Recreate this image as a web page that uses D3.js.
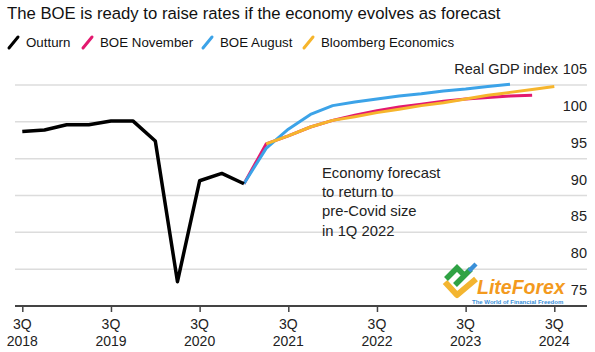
<!DOCTYPE html>
<html>
<head>
<meta charset="utf-8">
<script src="https://cdn.jsdelivr.net/npm/d3@7"></script>
<style>
  body { margin: 0; background: #fff; }
  svg { font-family: "Liberation Sans", Arial, sans-serif; }
</style>
</head>
<body>
<script>
// quarters from 3Q 2018 to 3Q 2024
let quarters = ['2018Q3', '2018Q4', '2019Q1', '2019Q2', '2019Q3', '2019Q4', '2020Q1', '2020Q2',
  '2020Q3', '2020Q4', '2021Q1', '2021Q2', '2021Q3', '2021Q4', '2022Q1', '2022Q2', '2022Q3',
  '2022Q4', '2023Q1', '2023Q2', '2023Q3', '2023Q4', '2024Q1', '2024Q2', '2024Q3']

let outturn = [98.7, 98.9, 99.6, 99.6, 100.1, 100.1, 97.4, 78.3, 92.0, 93.0, 91.6]
let boeNovember = [91.6, 97.0, 98.1, 99.3, 100.2, 100.9, 101.5, 102.0, 102.4, 102.8, 103.1, 103.3, 103.5, 103.6]
let boeAugust = [91.6, 96.4, 99.0, 101.0, 102.2, 102.7, 103.1, 103.5, 103.8, 104.2, 104.45, 104.8, 105.1]
let bloomberg = [97.0, 98.1, 99.3, 100.2, 100.7, 101.25, 101.7, 102.2, 102.6, 103.1, 103.6, 104.0, 104.4, 104.8]

let yTicks = [75, 80, 85, 90, 95, 100, 105]
let xTicks = ['2018Q3', '2019Q3', '2020Q3', '2021Q3', '2022Q3', '2023Q3', '2024Q3']

let series = [
  {name: 'BOE November', start: '2021Q1', values: boeNovember, color: '#e3196f'},
  {name: 'BOE August', start: '2021Q1', values: boeAugust, color: '#3ca3e8'},
  {name: 'Bloomberg Economics', start: '2021Q2', values: bloomberg, color: '#f6b52c'},
  {name: 'Outturn', start: '2018Q3', values: outturn, color: '#000'}
]
let legendOrder = ['Outturn', 'BOE November', 'BOE August', 'Bloomberg Economics']

let W = 595, H = 352
let svg = d3.select('body').append('svg').attr('width', W).attr('height', H)

let x = d3.scalePoint().domain(quarters).range([22.3, 554.3])
let y = d3.scaleLinear().domain([75, 105]).range([306, 85])

// title
svg.append('text').attr('x', 7).attr('y', 19).attr('font-size', 16.7).attr('fill', '#111')
  .text('The BOE is ready to raise rates if the economy evolves as forecast')

// legend
let lx = [7, 81, 201, 302]
legendOrder.forEach(function (n, i) {
  let s = series.find(function (d) { return d.name == n })
  let g = svg.append('g').attr('transform', 'translate(' + lx[i] + ',42)')
  g.append('line').attr('x1', 2).attr('y1', 6).attr('x2', 11).attr('y2', -5)
    .attr('stroke', s.color).attr('stroke-width', 3).attr('stroke-linecap', 'round')
  g.append('text').attr('x', 19).attr('y', 5).attr('font-size', 13.3).attr('fill', '#111').text(n)
})

// gridlines
svg.append('g').selectAll('line').data(yTicks.filter(function (d) { return d > 75 })).enter().append('line')
  .attr('x1', 15).attr('x2', 587)
  .attr('y1', function (d) { return y(d) }).attr('y2', function (d) { return y(d) })
  .attr('stroke', '#dcdcdc').attr('stroke-width', 1.5)

// y labels (above gridlines)
svg.append('g').selectAll('text').data(yTicks).enter().append('text')
  .attr('x', 587).attr('y', function (d) { return y(d) - 11 })
  .attr('text-anchor', 'end').attr('font-size', 14.5).attr('fill', '#222')
  .text(function (d) { return d })
svg.append('text').attr('x', 558).attr('y', y(105) - 11).attr('text-anchor', 'end')
  .attr('font-size', 14.5).attr('fill', '#222').text('Real GDP index')

// x axis
let xAxis = d3.axisBottom(x).tickValues(xTicks).tickSize(6).tickFormat('')
let ax = svg.append('g').attr('transform', 'translate(0,306)').call(xAxis)
ax.select('.domain').remove()
ax.selectAll('.tick line').attr('stroke', '#444').attr('stroke-width', 1.5)
svg.append('line').attr('x1', 15).attr('x2', 587).attr('y1', 306).attr('y2', 306)
  .attr('stroke', '#444').attr('stroke-width', 2)
let xl = svg.append('g').selectAll('text').data(xTicks).enter().append('text')
  .attr('text-anchor', 'middle').attr('font-size', 14).attr('fill', '#222')
xl.append('tspan').attr('x', function (d) { return x(d) }).attr('y', 329).text('3Q')
xl.append('tspan').attr('x', function (d) { return x(d) }).attr('y', 346).text(function (d) { return d.slice(0, 4) })

// annotation
let notes = ['Economy forecast', 'to return to', 'pre-Covid size', 'in 1Q 2022']
svg.append('g').selectAll('text').data(notes).enter().append('text')
  .attr('x', 322).attr('y', function (d, i) { return 178 + i * 19.2 })
  .attr('font-size', 14.8).attr('fill', '#222').text(function (d) { return d })

// watermark
let wm = svg.append('g')
wm.append('path').attr('d', 'M445,282 L457,295 L476,279').attr('fill', 'none')
  .attr('stroke', '#f3b530').attr('stroke-width', 6).attr('stroke-linejoin', 'round')
wm.append('path').attr('d', 'M446,279 L457,268 L466,277 M455,285 L471,269')
  .attr('fill', 'none').attr('stroke', '#2fa244').attr('stroke-width', 5.5)
wm.append('path').attr('d', 'M469,271 L476,264').attr('stroke', '#3a8fd8').attr('stroke-width', 4.5)
wm.append('text').attr('x', 477).attr('y', 294).attr('font-size', 19.5).attr('font-weight', 'bold')
  .attr('font-style', 'italic').attr('fill', '#f39a1e').text('LiteForex')
wm.append('text').attr('x', 472).attr('y', 303.5).attr('font-size', 6).attr('font-weight', 'bold')
  .attr('fill', '#3a8fd8').text('The World of Financial Freedom')

// lines
let line = d3.line()
  .x(function (d) { return x(d.q) })
  .y(function (d) { return y(d.v) })

svg.append('g').selectAll('path').data(series).enter().append('path')
  .attr('d', function (s) {
    let i0 = quarters.indexOf(s.start)
    return line(s.values.map(function (v, i) { return {q: quarters[i0 + i], v: v} }))
  })
  .attr('fill', 'none')
  .attr('stroke', function (s) { return s.color })
  .attr('stroke-width', function (s) { return s.name == 'Outturn' ? 3.5 : 3 })
  .attr('stroke-linejoin', 'round')
</script>
</body>
</html>
